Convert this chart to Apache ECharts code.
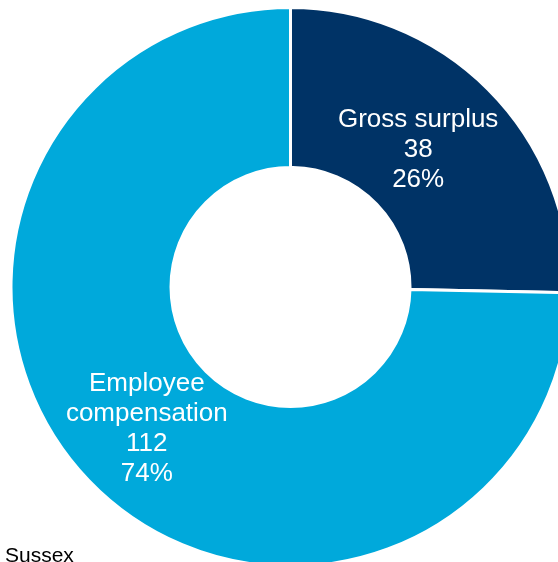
<!DOCTYPE html>
<html>
<head>
<meta charset="utf-8">
<script src="https://cdn.jsdelivr.net/npm/echarts@6/dist/echarts.min.js"></script>
<style>
  html, body { margin: 0; padding: 0; background: #ffffff; }
  #chart { width: 558px; height: 562px; }
</style>
</head>
<body>
<div id="chart"></div>
<script>
// Gross value added components, Sussex
const categories = ['Gross surplus', 'Employee\ncompensation'];
const values = [38, 112];
const shareLabels = ['26%', '74%'];
const colors = ['#003366', '#00A9DB'];
const footerText = 'Sussex';

const chart = echarts.init(document.getElementById('chart'), null, { renderer: 'canvas' });

const pieData = categories.map((name, i) => ({
  name: name,
  value: values[i],
  share: shareLabels[i],
  itemStyle: { color: colors[i] }
}));

chart.setOption({
  animation: false,
  backgroundColor: '#ffffff',
  series: [{
    type: 'pie',
    center: [290.5, 287],
    radius: [119.5, 279.5],
    startAngle: 90,
    clockwise: true,
    avoidLabelOverlap: false,
    itemStyle: { borderColor: '#ffffff', borderWidth: 3 },
    label: {
      show: true,
      position: 'inside',
      color: '#ffffff',
      fontFamily: 'Liberation Sans, Arial, sans-serif',
      fontSize: 26,
      lineHeight: 30,
      align: 'center',
      formatter: p => p.name + '\n' + p.value + '\n' + p.data.share
    },
    labelLayout: p => (p.dataIndex === 0 ? { dx: -17, dy: 5 } : { dx: 1, dy: 0 }),
    labelLine: { show: false },
    emphasis: { disabled: true },
    data: pieData
  }],
  graphic: [{
    type: 'text',
    left: 5,
    top: 546,
    style: {
      text: footerText,
      fill: '#000000',
      font: '21px "Liberation Sans", Arial, sans-serif'
    }
  }]
});
</script>
</body>
</html>
